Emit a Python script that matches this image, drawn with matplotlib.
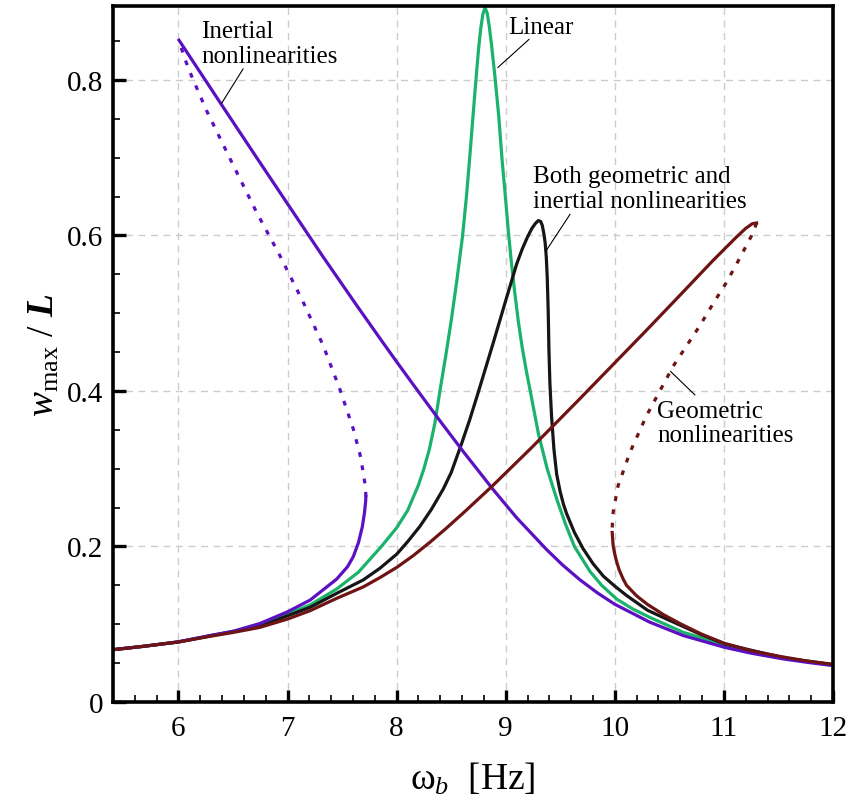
import numpy as np
import matplotlib
matplotlib.use('Agg')
import matplotlib.pyplot as plt

plt.rcParams['font.family'] = ['Liberation Serif', 'DejaVu Serif']
plt.rcParams['mathtext.fontset'] = 'custom'
plt.rcParams['mathtext.rm'] = 'Liberation Serif'
plt.rcParams['mathtext.it'] = 'Liberation Serif:italic'
plt.rcParams['mathtext.bf'] = 'Liberation Serif:bold:italic'

# linear response
lin_x = [5.4, 5.678, 6.0, 6.289, 6.503, 6.747, 7.0, 7.206, 7.45, 7.65, 7.86, 8.0, 8.1,
         8.2, 8.25, 8.3, 8.35, 8.397, 8.45, 8.5, 8.55, 8.605, 8.64, 8.67, 8.70, 8.724, 8.75,
         8.77, 8.79, 8.81, 8.83, 8.85, 8.87, 8.9, 8.935, 8.968, 9.0, 9.023, 9.05, 9.08,
         9.115, 9.15, 9.19, 9.222, 9.3, 9.38, 9.47, 9.55, 9.63, 9.772, 9.88, 10.017,
         10.16, 10.32, 10.627, 11.01, 11.54, 12.0]
lin_y = [0.0673, 0.0716, 0.0772, 0.085, 0.091, 0.098, 0.113, 0.1247, 0.1453, 0.167, 0.2,
         0.224, 0.246, 0.279, 0.3, 0.325, 0.358, 0.4, 0.445, 0.49, 0.54, 0.6, 0.65, 0.70,
         0.753, 0.795, 0.838, 0.865, 0.884, 0.893, 0.886, 0.868, 0.845, 0.806, 0.755, 0.695,
         0.645, 0.607, 0.568, 0.53, 0.49, 0.457, 0.425, 0.402, 0.345, 0.3, 0.26, 0.228, 0.2,
         0.168, 0.15, 0.1324, 0.12, 0.1089, 0.0896, 0.0735, 0.0565, 0.0475]

# both geometric and inertial
both_x = [5.4, 5.678, 6.0, 6.289, 6.503, 6.747, 7.0, 7.206, 7.45, 7.694, 7.847, 8.0, 8.1,
          8.214, 8.32, 8.428, 8.5, 8.59, 8.67, 8.75, 8.886, 9.008, 9.1, 9.15, 9.2, 9.24,
          9.27, 9.298, 9.32, 9.335, 9.35, 9.362, 9.372, 9.381, 9.39, 9.396, 9.405, 9.42,
          9.442, 9.467, 9.5, 9.53, 9.559, 9.63, 9.71, 9.8, 9.894, 10.0, 10.108, 10.3,
          10.475, 10.78, 11.01, 11.54, 12.0]
both_y = [0.0673, 0.0716, 0.0772, 0.085, 0.0905, 0.097, 0.111, 0.1217, 0.1397, 0.157, 0.172,
          0.19, 0.206, 0.226, 0.248, 0.274, 0.295, 0.33, 0.363, 0.399, 0.462, 0.52, 0.563,
          0.582, 0.598, 0.609, 0.615, 0.619, 0.618, 0.613, 0.602, 0.59, 0.572, 0.545, 0.5,
          0.454, 0.41, 0.368, 0.325, 0.293, 0.27, 0.254, 0.242, 0.218, 0.197, 0.178, 0.162,
          0.149, 0.137, 0.118, 0.1067, 0.0874, 0.0745, 0.057, 0.048]

# inertial nonlinearities: stable upper, stable lower, unstable middle
inert_hi_x = [6.005, 6.381, 6.717, 7.022, 7.328, 7.634, 7.84, 8.0, 8.153, 8.4, 8.611, 8.886,
              9.1, 9.375, 9.52, 9.68, 9.84, 10.0, 10.32, 10.627, 11.01, 11.25, 11.54, 11.75,
              12.0]
inert_hi_y = [0.851, 0.771, 0.700, 0.636, 0.572, 0.510, 0.469, 0.4375, 0.408, 0.361, 0.322,
              0.273, 0.237, 0.196, 0.1764, 0.1572, 0.1404, 0.1257, 0.1027, 0.0855, 0.0702,
              0.0628, 0.0555, 0.0513, 0.0468]
inert_lo_x = [5.4, 5.678, 6.0, 6.289, 6.503, 6.747, 7.0, 7.206, 7.45, 7.55, 7.603, 7.65,
              7.685, 7.705, 7.716, 7.718]
inert_lo_y = [0.0673, 0.0716, 0.0775, 0.0855, 0.091, 0.101, 0.116, 0.131, 0.158, 0.174,
              0.187, 0.205, 0.225, 0.243, 0.258, 0.264]
inert_un_x = [7.718, 7.715, 7.705, 7.67, 7.603, 7.48, 7.328, 7.144, 6.93, 6.717, 6.503,
              6.259, 6.12, 6.05, 6.005]
inert_un_y = [0.264, 0.275, 0.285, 0.315, 0.351, 0.402, 0.458, 0.514, 0.574, 0.6295, 0.69,
              0.76, 0.805, 0.83, 0.851]

# geometric nonlinearities: stable upper, unstable, stable lower
geom_hi_x = [5.4, 5.678, 6.0, 6.289, 6.503, 6.747, 7.0, 7.206, 7.45, 7.694, 7.847, 8.0,
             8.15, 8.306, 8.45, 8.611, 8.871, 9.222, 9.42, 9.68, 9.985, 10.29, 10.597,
             10.902, 11.116, 11.2, 11.26, 11.3]
geom_hi_y = [0.0673, 0.0716, 0.0772, 0.0845, 0.0895, 0.096, 0.1067, 0.1174, 0.1333, 0.148,
             0.16, 0.173, 0.188, 0.2055, 0.2228, 0.2431, 0.2769, 0.325, 0.353, 0.39, 0.434,
             0.478, 0.523, 0.568, 0.598, 0.609, 0.615, 0.616]
geom_un_x = [11.3, 11.285, 11.27, 11.15, 11.024, 10.9, 10.78, 10.536, 10.29, 10.139, 10.03,
             9.985, 9.978, 9.976]
geom_un_y = [0.616, 0.61, 0.604, 0.572, 0.5396, 0.512, 0.484, 0.432, 0.368, 0.321, 0.278,
             0.244, 0.23, 0.218]
geom_lo_x = [9.976, 9.985, 10.0, 10.016, 10.04, 10.077, 10.108, 10.2, 10.3, 10.45, 10.61,
             10.8, 11.0, 11.25, 11.52, 11.75, 12.0]
geom_lo_y = [0.218, 0.201, 0.19, 0.181, 0.170, 0.158, 0.150, 0.1365, 0.1255, 0.112, 0.100,
             0.087, 0.0757, 0.066, 0.0585, 0.053, 0.0485]

xticks = [6, 7, 8, 9, 10, 11, 12]
yticks = [0, 0.2, 0.4, 0.6, 0.8]
ytick_labels = ['0', '0.2', '0.4', '0.6', '0.8']

purple = '#5b10c2'
green = '#1bb26b'
maroon = '#6e1414'
black = '#161616'
lw = 2.3
dots = (0, (1.5, 2.7))

fig = plt.figure(figsize=(8.53, 8.04), dpi=100)
ax = fig.add_axes([0.1325, 0.1256, 0.844, 0.8657])

ax.plot(lin_x, lin_y, color=green, lw=lw)
ax.plot(both_x, both_y, color=black, lw=lw)
ax.plot(inert_hi_x, inert_hi_y, color=purple, lw=lw)
ax.plot(inert_lo_x, inert_lo_y, color=purple, lw=lw)
ax.plot(inert_un_x, inert_un_y, color=purple, lw=lw, linestyle=dots)
ax.plot(geom_hi_x, geom_hi_y, color=maroon, lw=lw)
ax.plot(geom_un_x, geom_un_y, color=maroon, lw=lw, linestyle=dots)
ax.plot(geom_lo_x, geom_lo_y, color=maroon, lw=lw)

ax.set_xlim(5.4, 12)
ax.set_ylim(0, 0.895)
ax.set_xticks(xticks)
ax.set_yticks(yticks)
ax.set_yticklabels(ytick_labels)
ax.set_xticks(np.arange(5.4, 12.01, 0.2), minor=True)
ax.set_yticks(np.arange(0, 0.9, 0.05), minor=True)
ax.tick_params(which='major', direction='in', length=9, width=2.4, labelsize=21,
               top=False, right=False)
ax.tick_params(which='minor', direction='in', length=5, width=1.2, top=False, right=False)
ax.tick_params(axis='x', which='major', pad=9)
ax.tick_params(axis='y', which='major', pad=7)
for s in ax.spines.values():
    s.set_linewidth(2.6)

ax.grid(True, which='major', color='#cccccc', linestyle=(0, (5, 4)), lw=1.0)
ax.set_axisbelow(True)

ax.set_xlabel(r'ω$_b$  [Hz]', fontsize=27, labelpad=14)
ax.set_ylabel(r'$w_{\mathrm{max}}$ / $\mathbf{L}$', fontsize=27, labelpad=4)

# labels with leader lines
fs = 18
ax.text(6.207, 0.877, 'Inertial\nnonlinearities', fontsize=fs, va='top', ha='left',
        linespacing=1.15)
ax.plot([6.592, 6.396], [0.814, 0.770], color='k', lw=0.8)
ax.text(9.02, 0.882, 'Linear', fontsize=fs, va='top', ha='left')
ax.plot([9.213, 8.929], [0.852, 0.816], color='k', lw=0.8)
ax.text(9.25, 0.690, 'Both geometric and\ninertial nonlinearities', fontsize=fs,
        va='top', ha='left', linespacing=1.15)
ax.plot([9.589, 9.369], [0.627, 0.580], color='k', lw=0.8)
ax.text(10.386, 0.389, 'Geometric\nnonlinearities', fontsize=fs, va='top', ha='left',
        linespacing=1.15)
ax.plot([10.734, 10.512], [0.395, 0.425], color='k', lw=0.8)

fig.savefig('out.png', dpi=100)
